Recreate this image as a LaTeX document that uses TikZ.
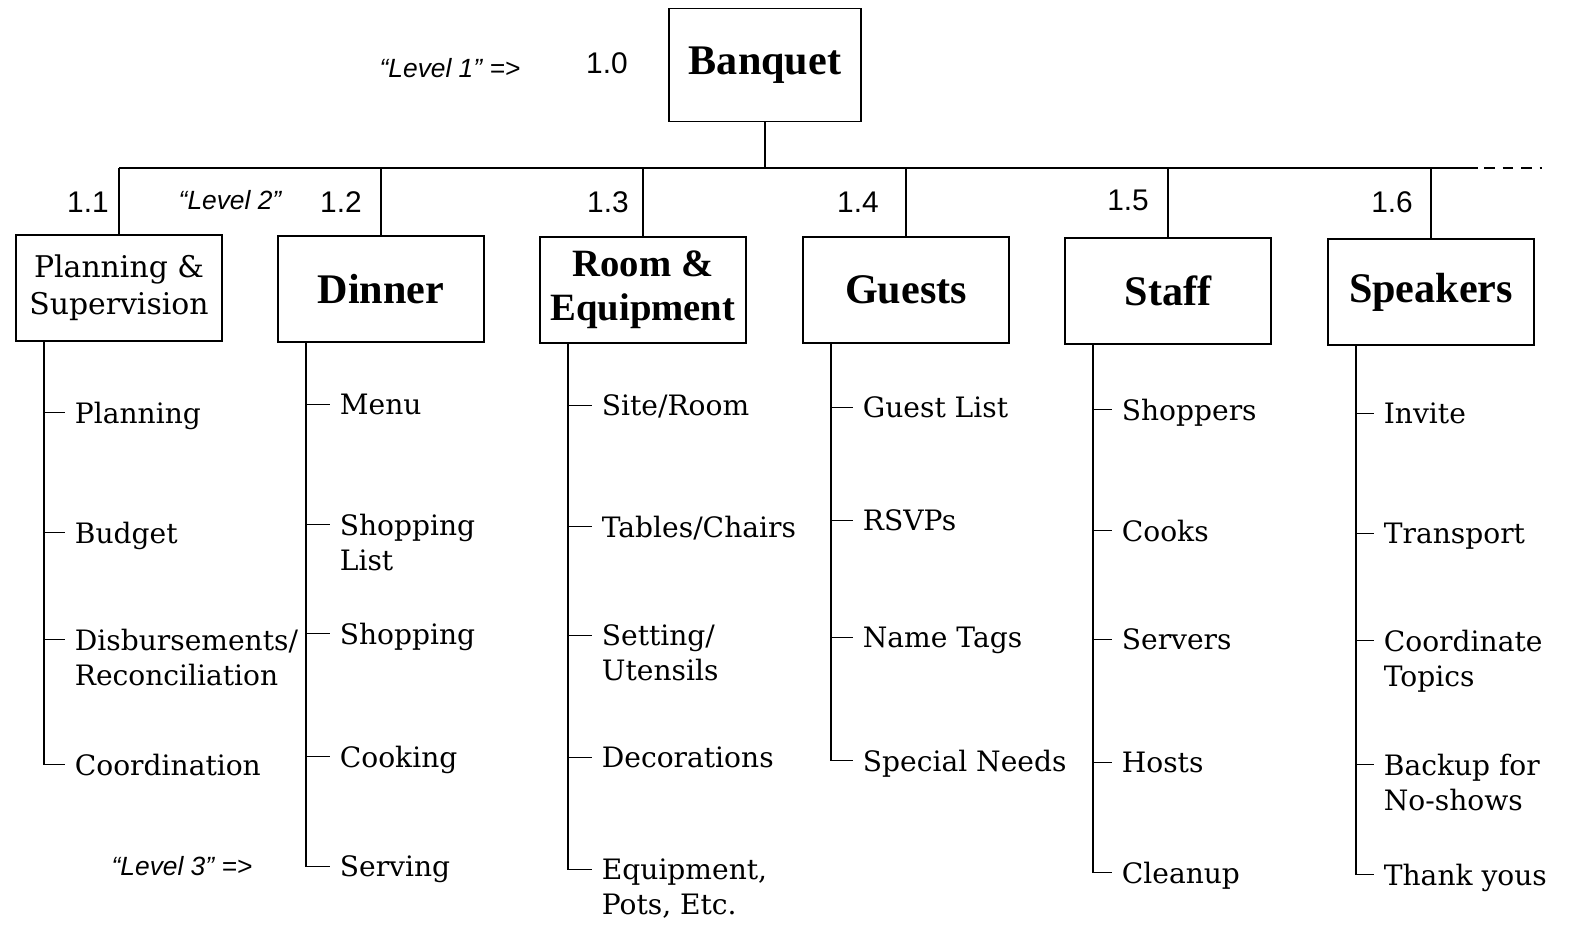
\documentclass[tikz,border=0pt]{standalone}
\usepackage{fontspec}
\setmainfont{DejaVu Serif}
\newfontfamily\boxfont{Liberation Serif}
\newfontfamily\numfont{Liberation Sans}
\usetikzlibrary{calc}

\begin{document}
\begin{tikzpicture}[
		x=0.02cm, y=-0.02cm,
		line width=1pt,
		wbs/.style={rectangle, draw=black, line width=1pt, minimum width=4.12cm, minimum height=2.12cm, align=center, inner sep=2pt, font=\boxfont\bfseries\fontsize{24}{27}\selectfont},
		task/.style={anchor=north west, inner sep=0pt, align=left, font=\fontsize{16}{20}\selectfont},
		num/.style={font=\numfont\fontsize{17}{20}\selectfont},
		lvl/.style={font=\numfont\itshape\fontsize{15}{17}\selectfont}
		]
		\useasboundingbox (0,0) rectangle (1576,929);
		
		% level 1
		\node (top) at (765,65) [wbs, minimum width=3.84cm, minimum height=2.26cm] {Banquet};
		\node (n10) at (607,63) [num] {1.0};
		\node (lvl1) at (450,68) [lvl] {“Level 1” =>};
		
		% level 2
		\node (b11) at (119,288) [wbs, font=\fontsize{17}{21}\selectfont] {Planning \&\\Supervision};
		\node (b12) at (381,289) [wbs] {Dinner};
		\node (b13) at (643,290) [wbs, font=\boxfont\bfseries\fontsize{22}{25}\selectfont] {Room \&\\Equipment};
		\node (b14) at (906,290) [wbs] {Guests};
		\node (b15) at (1168,291) [wbs] {Staff};
		\node (b16) at (1431,292) [wbs] {Speakers};
		
		\node (n11) at (88,202) [num] {1.1};
		\node (n12) at (341,202) [num] {1.2};
		\node (n13) at (608,202) [num] {1.3};
		\node (n14) at (858,202) [num] {1.4};
		\node (n15) at (1128,200) [num] {1.5};
		\node (n16) at (1392,202) [num] {1.6};
		\node (lvl2) at (230,200) [lvl] {“Level 2”};
		\node (lvl3) at (182,866) [lvl] {“Level 3” =>};
		
		\coordinate (bus) at (top.south |- 0,168);
		\coordinate (busend) at (1478,168);
		\coordinate (dashend) at (1542,168);
		\draw (top.south) -- (bus);
		\draw (b11.north |- bus) -- (busend);
		\draw [dash pattern=on 6pt off 4.5pt] ([xshift=3.5pt]busend) -- (dashend);
		\foreach \b in {b11,b12,b13,b14,b15,b16}
			\draw (\b.north) -- (\b.north |- bus);
		
		% level 3
		\coordinate (sp1) at ($(b11.south west)+(29,0)$);
		\coordinate (sp2) at ($(b12.south west)+(29,0)$);
		\coordinate (sp3) at ($(b13.south west)+(29,0)$);
		\coordinate (sp4) at ($(b14.south west)+(29,0)$);
		\coordinate (sp5) at ($(b15.south west)+(29,0)$);
		\coordinate (sp6) at ($(b16.south west)+(29,0)$);
		
		\foreach \i/\y/\t in {1/401/Planning, 2/521/Budget, 3/628/{Disbursements/\\Reconciliation}, 4/753/Coordination} {
			\node (t1-\i) at (74,\y) [task] {\t};
			\draw (sp1) |- ([xshift=-5pt,yshift=-6.5pt]t1-\i.north west);
		}
		\foreach \i/\y/\t in {1/393/Menu, 2/513/{Shopping\\List}, 3/622/Shopping, 4/745/Cooking, 5/855/Serving} {
			\node (t2-\i) at (339,\y) [task] {\t};
			\draw (sp2) |- ([xshift=-5pt,yshift=-6.5pt]t2-\i.north west);
		}
		\foreach \i/\y/\t in {1/394/{Site/Room}, 2/515/{Tables/Chairs}, 3/624/{Setting/\\Utensils}, 4/746/Decorations, 5/858/{Equipment,\\Pots, Etc.}} {
			\node (t3-\i) at (601,\y) [task] {\t};
			\draw (sp3) |- ([xshift=-5pt,yshift=-6.5pt]t3-\i.north west);
		}
		\foreach \i/\y/\t in {1/396/Guest List, 2/509/RSVPs, 3/626/Name Tags, 4/749/Special Needs} {
			\node (t4-\i) at (862,\y) [task] {\t};
			\draw (sp4) |- ([xshift=-5pt,yshift=-6.5pt]t4-\i.north west);
		}
		\foreach \i/\y/\t in {1/398/Shoppers, 2/519/Cooks, 3/628/Servers, 4/751/Hosts, 5/861/Cleanup} {
			\node (t5-\i) at (1121,\y) [task] {\t};
			\draw (sp5) |- ([xshift=-5pt,yshift=-6.5pt]t5-\i.north west);
		}
		\foreach \i/\y/\t in {1/402/Invite, 2/522/Transport, 3/629/{Coordinate\\Topics}, 4/753/{Backup for\\No-shows}, 5/863/Thank yous} {
			\node (t6-\i) at (1383,\y) [task] {\t};
			\draw (sp6) |- ([xshift=-5pt,yshift=-6.5pt]t6-\i.north west);
		}
	\end{tikzpicture}
\end{document}
